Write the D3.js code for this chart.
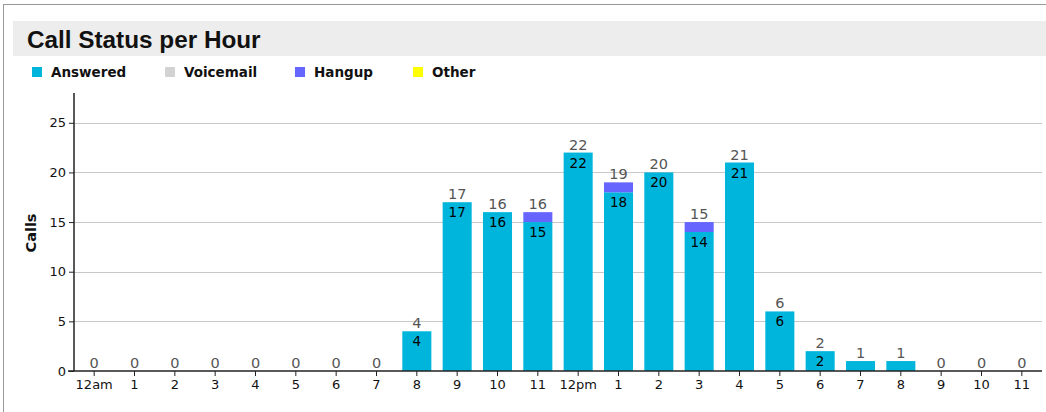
<!DOCTYPE html>
<html>
<head>
<meta charset="utf-8">
<style>
  body { margin: 0; background: #fff; }
  svg { display: block; font-family: "DejaVu Sans", sans-serif; }
</style>
</head>
<body>
<svg width="1046" height="412"></svg>
<script src="https://d3js.org/d3.v7.min.js"></script>
<script>

  var hours = ["12am", "1", "2", "3", "4", "5", "6", "7", "8", "9", "10", "11",
    "12pm", "1", "2", "3", "4", "5", "6", "7", "8", "9", "10", "11"];
  var answered = [0, 0, 0, 0, 0, 0, 0, 0, 4, 17, 16, 15, 22, 18, 20, 14, 21, 6, 2, 1, 1, 0, 0, 0];
  var voicemail = [0, 0, 0, 0, 0, 0, 0, 0, 0, 0, 0, 0, 0, 0, 0, 0, 0, 0, 0, 0, 0, 0, 0, 0];
  var hangup = [0, 0, 0, 0, 0, 0, 0, 0, 0, 0, 0, 1, 0, 1, 0, 1, 0, 0, 0, 0, 0, 0, 0, 0];
  var other = [0, 0, 0, 0, 0, 0, 0, 0, 0, 0, 0, 0, 0, 0, 0, 0, 0, 0, 0, 0, 0, 0, 0, 0];
  var yTicks = [0, 5, 10, 15, 20, 25];

  var statuses = ["Answered", "Voicemail", "Hangup", "Other"];
  var colors = ["#00b5dc", "#d3d3d3", "#6666ff", "#ffff00"];
  var series = [answered, voicemail, hangup, other];

  var rows = hours.map(function (h, i) {
    var r = { i: i, hour: h };
    statuses.forEach(function (s, k) { r[s] = series[k][i]; });
    r.total = d3.sum(series, function (a) { return a[i]; });
    return r;
  });

  var svg = d3.select("svg"),
    margin = { top: 93, right: 4, bottom: 41, left: 74 },
    width = +svg.attr("width") - margin.left - margin.right,
    height = +svg.attr("height") - margin.top - margin.bottom;

  // page frame and title band
  svg.append("rect").attr("x", 3.5).attr("y", 4.5).attr("width", 1100).attr("height", 500)
    .attr("fill", "none").attr("stroke", "#999");
  svg.append("rect").attr("x", 13).attr("y", 21).attr("width", 1046).attr("height", 35)
    .attr("fill", "#ededed");
  svg.append("text").attr("x", 27).attr("y", 48)
    .attr("font-family", "Liberation Sans, Arial, sans-serif")
    .attr("font-size", 24.3).attr("font-weight", "bold").attr("fill", "#111")
    .text("Call Status per Hour");

  // legend
  var legendX = [32, 165, 295, 413];
  var legend = svg.append("g").selectAll("g").data(statuses).join("g")
    .attr("transform", function (d, i) { return "translate(" + legendX[i] + ",67)"; });
  legend.append("rect").attr("width", 10).attr("height", 10)
    .attr("fill", function (d, i) { return colors[i]; });
  legend.append("text").attr("x", 19).attr("y", 10)
    .attr("font-family", "DejaVu Sans, sans-serif")
    .attr("font-size", 13.5).attr("font-weight", "bold").attr("fill", "#111")
    .text(function (d) { return d; });

  var g = svg.append("g").attr("transform", "translate(" + margin.left + "," + margin.top + ")");

  var x = d3.scaleBand()
    .domain(d3.range(hours.length))
    .range([0, width])
    .paddingInner(0.28)
    .paddingOuter(0.14);

  var y = d3.scaleLinear()
    .domain([0, 28])
    .range([height, 0]);

  // grid
  g.append("g").selectAll("line").data(yTicks.filter(function (t) { return t > 0; })).join("line")
    .attr("x1", 0).attr("x2", width)
    .attr("y1", function (d) { return Math.round(y(d)) + 0.5; })
    .attr("y2", function (d) { return Math.round(y(d)) + 0.5; })
    .attr("stroke", "#c8c8c8");

  var stack = d3.stack().keys(statuses);
  var layers = stack(rows);

  g.append("g").selectAll("g").data(layers).join("g")
    .attr("fill", function (d, i) { return colors[i]; })
    .selectAll("rect").data(function (d) { return d.filter(function (p) { return p[1] > p[0]; }); }).join("rect")
    .attr("x", function (d) { return x(d.data.i); })
    .attr("width", x.bandwidth())
    .attr("y", function (d) { return y(d[1]); })
    .attr("height", function (d) { return y(d[0]) - y(d[1]); });

  // value inside the answered segment
  g.append("g").selectAll("text")
    .data(rows.filter(function (r) { return y(0) - y(r.Answered) >= 16; })).join("text")
    .attr("x", function (d) { return x(d.i) + x.bandwidth() / 2; })
    .attr("y", function (d) { return y(d.Answered) + 15; })
    .attr("text-anchor", "middle").attr("font-size", 13.5).attr("fill", "#000")
    .text(function (d) { return d.Answered; });

  // totals above bars
  g.append("g").selectAll("text").data(rows).join("text")
    .attr("x", function (d) { return x(d.i) + x.bandwidth() / 2; })
    .attr("y", function (d) { return y(d.total) - 3; })
    .attr("text-anchor", "middle").attr("font-size", 14.5).attr("fill", "#555")
    .text(function (d) { return d.total; });

  // axes
  var yAxis = g.append("g")
    .call(d3.axisLeft(y).tickValues(yTicks).tickSize(5).tickPadding(3));
  var xAxis = g.append("g").attr("transform", "translate(0," + height + ")")
    .call(d3.axisBottom(x).tickFormat(function (i) { return hours[i]; }).tickSize(5).tickPadding(4));

  [yAxis, xAxis].forEach(function (a) {
    a.select(".domain").attr("stroke", "#222").attr("stroke-width", 1.5);
    a.selectAll(".tick line").attr("stroke", "#222");
    a.selectAll(".tick text").attr("font-family", "DejaVu Sans, sans-serif")
      .attr("font-size", 13).attr("fill", "#111");
  });
  yAxis.select(".domain").attr("d", "M0," + height + "V0");
  xAxis.select(".domain").attr("d", "M-6,0H" + width);

  g.append("text")
    .attr("transform", "translate(-38," + (233 - margin.top) + ") rotate(-90)")
    .attr("text-anchor", "middle")
    .attr("font-family", "DejaVu Sans, sans-serif")
    .attr("font-size", 14.5).attr("font-weight", "bold").attr("fill", "#111")
    .text("Calls");

</script>
</body>
</html>
